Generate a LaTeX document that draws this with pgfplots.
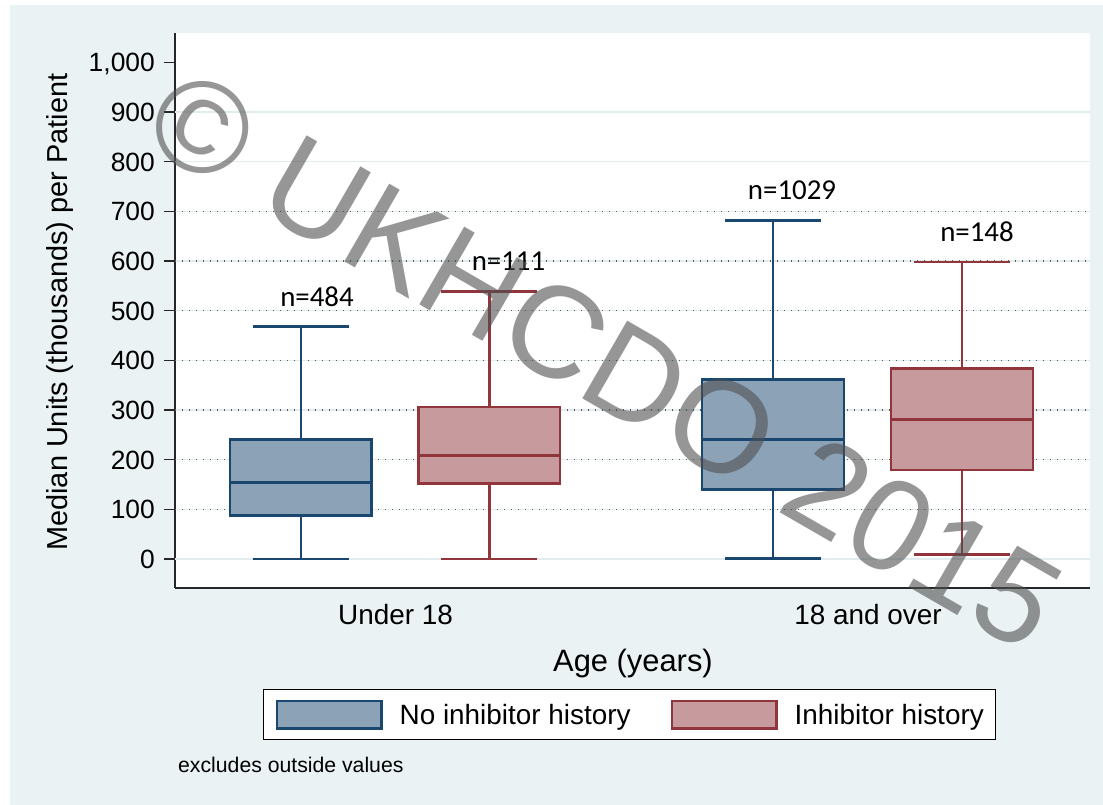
\documentclass[border=0pt]{standalone}
\usepackage{pgfplots}
\pgfplotsset{compat=1.18}
\usepgfplotslibrary{statistics}
\usepackage{fontspec}
\setmainfont{Liberation Sans}
\newfontfamily\calibri{Carlito}
\definecolor{bgouter}{RGB}{234,242,243}
\definecolor{gridlt}{RGB}{226,236,238}
\definecolor{navy}{RGB}{26,71,111}
\definecolor{maroon}{RGB}{144,53,59}
\colorlet{navyfill}{navy!50!white}
\colorlet{maroonfill}{maroon!50!white}
\definecolor{wmark}{RGB}{80,80,80}

\begin{document}
\begin{tikzpicture}[x=1bp,y=1bp]
\useasboundingbox (0,0) rectangle (1103,805);
\fill[white] (0,0) rectangle (1103,805);
\fill[bgouter] (10,0) rectangle (1103,800);
\begin{axis}[
    at={(175bp,217bp)}, anchor=south west,
    width=915bp, height=555bp, scale only axis,
    xmin=175, xmax=1090, ymin=-58.4, ymax=1059,
    boxplot/draw direction=y,
    axis background/.style={fill=white},
    axis x line*=bottom, axis y line*=left,
    axis line style={draw=black!85, line width=1.4bp},
    xtick={395.5,868}, xticklabels={Under 18, 18 and over},
    xtick style={draw=none},
    ytick={0,100,...,1000},
    ytick style={draw=black!85, line width=1.4bp},
    tick align=outside, major tick length=11bp,
    /pgf/number format/assume math mode=true,
    yticklabel style={font=\fontsize{26.5}{30}\selectfont, anchor=base east, inner sep=0pt, xshift=-9bp, yshift=-9.5bp},
    xticklabel style={font=\fontsize{28}{32}\selectfont, anchor=base, inner sep=0pt, yshift=-25.3bp},
    xlabel={Age (years)},
    xlabel style={at={(axis description cs:0.5005,-0.1508)}, anchor=base, inner sep=0pt, font=\fontsize{31}{36}\selectfont},
    ylabel={Median Units (thousands) per Patient},
    ylabel style={at={(axis description cs:-0.118,0.497)}, anchor=base, rotate=0, inner sep=0pt, font=\fontsize{29}{34}\selectfont},
    legend columns=2,
    legend image code/.code={\draw[#1] (0bp,-13.7bp) rectangle (104.4bp,13.7bp);},
    legend style={at={(axis description cs:0.0962,-0.1825)}, anchor=north west,
        draw=black, line width=1.2bp, fill=white, inner xsep=12bp, inner ysep=10bp,
        font=\fontsize{28}{32}\selectfont,
        nodes={inner sep=0pt, text depth=0pt},
        /tikz/every odd column/.append style={column sep=17bp},
        /tikz/every even column/.append style={column sep=40bp}},
]
\addlegendimage{draw=navy, fill=navyfill, line width=2.6bp}
\addlegendentry{No inhibitor history}
\addlegendimage{draw=maroon, fill=maroonfill, line width=2.6bp}
\addlegendentry{Inhibitor history}

% grid: light solid lines, dotted overlay from 100 to 700
\pgfplotsinvokeforeach{0,100,...,900}{
  \draw[gridlt, line width=1.3bp] (axis cs:175,#1) -- (axis cs:1090,#1);
}
\pgfplotsinvokeforeach{100,200,...,700}{
  \draw[black!65, line width=1.4bp, dash pattern=on 1.4bp off 5.6bp] (axis cs:175,#1) -- (axis cs:1090,#1);
}

% Under 18
\addplot[forget plot, draw=navy, fill=navyfill, line width=2.6bp,
  boxplot prepared={draw position=300.8, lower whisker=0, lower quartile=88,
    median=154, upper quartile=240, upper whisker=468,
    box extend=141.7, whisker extend=96}] coordinates {};
\addplot[forget plot, draw=maroon, fill=maroonfill, line width=2.6bp,
  boxplot prepared={draw position=489.2, lower whisker=0, lower quartile=152,
    median=208, upper quartile=306, upper whisker=538,
    box extend=141.7, whisker extend=96}] coordinates {};
% 18 and over
\addplot[forget plot, draw=navy, fill=navyfill, line width=2.6bp,
  boxplot prepared={draw position=773, lower whisker=1.5, lower quartile=140.5,
    median=241, upper quartile=361, upper whisker=681,
    box extend=141.7, whisker extend=96}] coordinates {};
\addplot[forget plot, draw=maroon, fill=maroonfill, line width=2.6bp,
  boxplot prepared={draw position=962, lower whisker=9.5, lower quartile=179.5,
    median=281, upper quartile=384, upper whisker=598,
    box extend=141.7, whisker extend=96}] coordinates {};

\begin{scope}[every node/.style={font=\calibri\fontsize{29}{34}\selectfont, anchor=base, inner sep=0pt}]
\node at (axis cs:317,508) {n=484};
\node at (axis cs:508.5,580.4) {n=111};
\node at (axis cs:792,722.8) {n=1029};
\node at (axis cs:977,638.8) {n=148};
\end{scope}
\end{axis}
\node[anchor=base west, inner sep=0pt, font=\fontsize{21.3}{25}\selectfont] at (178,32) {excludes outside values};
\node[rotate=-30, inner sep=0pt, text=wmark, text opacity=0.6, font=\fontsize{131}{150}\selectfont] at (605,445) {© UKHCDO 2015};
\end{tikzpicture}
\end{document}
